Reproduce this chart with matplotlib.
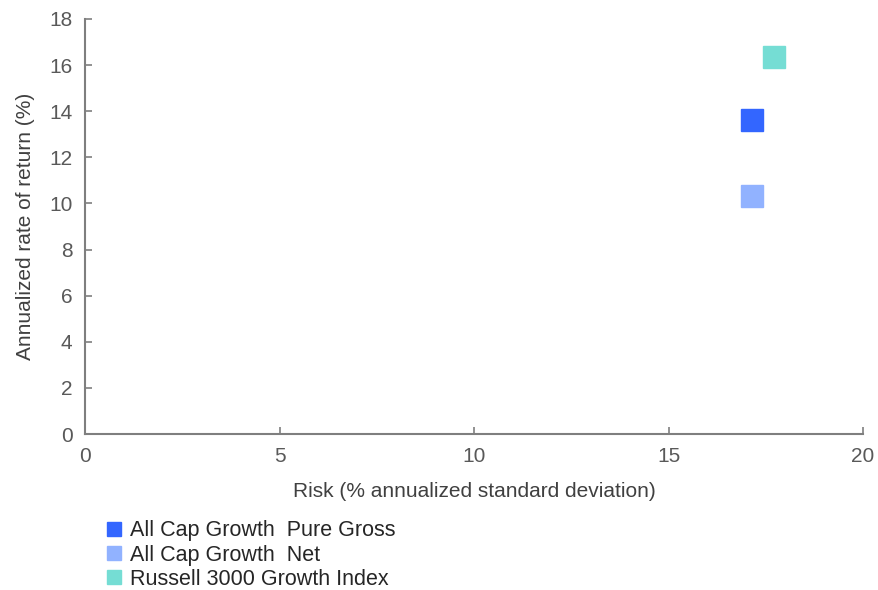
import matplotlib
matplotlib.use("Agg")
import matplotlib.pyplot as plt
from matplotlib.lines import Line2D

plt.rcParams['font.family'] = ['Liberation Sans', 'DejaVu Sans']

# risk / return per series
names = ["All Cap Growth  Pure Gross", "All Cap Growth  Net", "Russell 3000 Growth Index"]
risk = [17.15, 17.15, 17.70]
ret = [13.62, 10.33, 16.35]
colors = ["#3366FF", "#91B2FF", "#75DDD4"]

x_ticks = [0, 5, 10, 15, 20]
y_ticks = [0, 2, 4, 6, 8, 10, 12, 14, 16, 18]

axis_col = "#7F7F7F"
tick_col = "#595959"
label_col = "#404040"

fig = plt.figure(figsize=(8.79, 5.9), dpi=100)
ax = fig.add_axes([0.0967, 0.2644, 0.8851, 0.7034])

for n, xv, yv, c in zip(names, risk, ret, colors):
    ax.plot([xv], [yv], marker='s', linestyle='none', markersize=16,
            markerfacecolor=c, markeredgecolor=c, label=n)

ax.set_xlim(0, 20)
ax.set_ylim(0, 18)
ax.set_xticks(x_ticks)
ax.set_yticks(y_ticks)
ax.tick_params(direction='in', length=5, width=1.2, color=axis_col,
               labelcolor=tick_col, labelsize=15, pad=9)
for s in ['top', 'right']:
    ax.spines[s].set_visible(False)
for s in ['left', 'bottom']:
    ax.spines[s].set_color(axis_col)
    ax.spines[s].set_linewidth(1.5)

ax.set_xlabel("Risk (% annualized standard deviation)", fontsize=15, color=label_col, labelpad=12)
ax.set_ylabel("Annualized rate of return (%)", fontsize=15, color=label_col, labelpad=10)

handles = [Line2D([], [], marker='s', linestyle='none', markersize=9.5,
                  markerfacecolor=c, markeredgecolor=c) for c in colors]
leg = fig.legend(handles, names, loc='upper left', bbox_to_anchor=(0.117, 0.118),
                 frameon=False, fontsize=15.5, handletextpad=0.25, labelspacing=0.15,
                 handlelength=1.0, borderaxespad=0, borderpad=0)
for t in leg.get_texts():
    t.set_color("#262626")

fig.savefig("out.png", dpi=100)
